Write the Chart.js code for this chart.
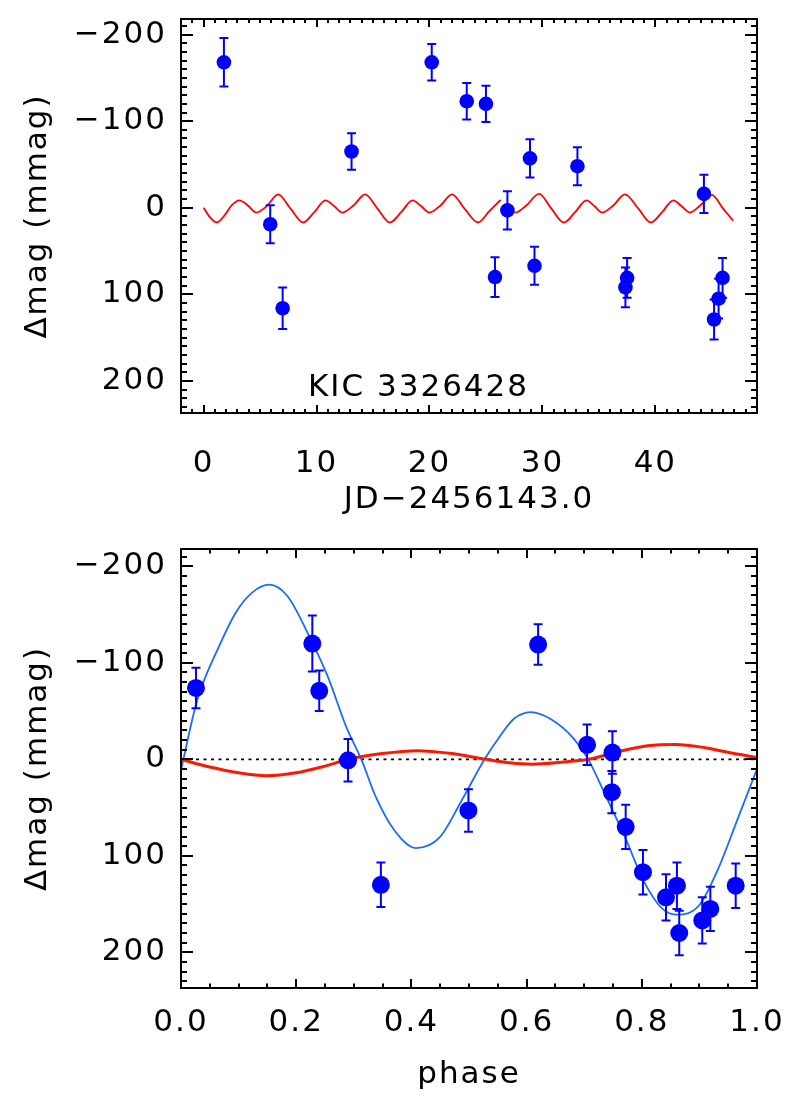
<!DOCTYPE html>
<html lang="en">
<head>
<meta charset="UTF-8">
<title>KIC 3326428 light curve</title>
<script src="https://cdn.jsdelivr.net/npm/chart.js"></script>
<style>
  body { margin: 0; background: #fff; }
  canvas { position: absolute; left: 0; }
</style>
</head>
<body>
<canvas id="lc" width="786" height="540" style="top:0"></canvas>
<canvas id="ph" width="786" height="560" style="top:540px"></canvas>
<script>
// ---- top panel: time series ----
const jd     = [1.8, 5.9, 7.0, 13.1, 20.2, 23.3, 25.0, 25.8, 26.9, 28.9, 29.3, 33.1, 37.35, 37.5, 44.3, 45.2, 45.6, 45.95];
const jdMag  = [-168, 19, 116, -65, -168, -123, -120, 80, 3, -57, 67, -48, 92, 81, -16, 129, 105, 81];
const jdErr  = [28, 22, 24, 21, 21, 21, 21, 23, 22, 22, 22, 22, 23, 23, 22, 23, 23, 23];

// model curve, two pieces (null = break)
const fitJd  = [0.0, 0.5, 1.17, 1.9, 2.5, 3.17, 3.9, 4.65, 5.6, 6.6, 7.7, 8.83, 9.8, 10.8, 11.55, 12.3, 13.3, 14.3,
                15.4, 16.5, 17.5, 18.5, 19.25, 20.0, 21.0, 22.0, 23.1, 24.3, 25.3, 26.3, 26.6,
                27.0, 27.6, 28.6, 29.7, 30.8, 31.9, 32.9, 33.9, 34.6, 35.3, 36.3, 37.3, 38.5, 39.6, 40.6, 41.6,
                42.3, 43.05, 44.0, 45.0, 46.0, 46.9];
const fitMag = [0, 10, 17, 8, -3, -8.6, -3, 5.5, -2, -15.5, 1, 17, 5, -8.6, -2, 5.5, -3, -15.5,
                1, 17, 5, -8.6, -2, 5.5, -3, -15.5, 1, 17, 4, -9, null,
                3, 5.5, -3, -16, 1, 17, 5, -8.6, -2, 5.5, -3, -15.5, 1, 17, 5, -8.6,
                -2, 5.5, -3, -15, 1, 15];

// ---- bottom panel: phased ----
const phase  = [0.026, 0.228, 0.240, 0.290, 0.347, 0.499, 0.620, 0.705, 0.749, 0.748, 0.772, 0.802, 0.842, 0.861, 0.865, 0.905, 0.919, 0.963];
const phMag  = [-74, -120, -71, 1, 130, 53, -119, -15, -7, 34, 70, 117, 143, 131, 180, 167, 155, 131];
const phErr  = [21, 29, 21, 22, 23, 22, 21, 21, 22, 22, 23, 23, 24, 24, 23, 24, 23, 23];

const blueX = [0.0, 0.028, 0.066, 0.095, 0.124, 0.153, 0.185, 0.227, 0.254, 0.288, 0.313, 0.339, 0.371, 0.408, 0.449,
               0.487, 0.527, 0.555, 0.578, 0.607, 0.641, 0.681, 0.707, 0.739, 0.771, 0.804, 0.836, 0.862, 0.900, 0.933, 0.965, 1.0];
const blueY = [11, -61, -117, -152, -173, -181, -169, -122, -87, -32, 0, 40, 74, 92, 81,
               43, 0, -25, -42, -49, -42, -22, 0, 40, 81, 127, 155, 161, 151, 113, 64, 10];

const redX = [0.0, 0.05, 0.10, 0.148, 0.20, 0.25, 0.29, 0.35, 0.41, 0.47, 0.53, 0.57, 0.61, 0.66, 0.707, 0.76, 0.81, 0.859, 0.91, 0.96, 1.0];
const redY = [0, 8, 14, 17, 14, 7, 0, -6, -9, -6, 0, 3.5, 5, 3, 0, -8, -14, -15.5, -12, -6, -2];

const zeroX = [0, 1];
const zeroY = [0, 0];

// ticks
const magTicks   = [-200, -100, 0, 100, 200];
const jdTicks    = [0, 10, 20, 30, 40];
const phaseTicks = [0, 0.2, 0.4, 0.6, 0.8, 1.0];

const pts = (xs, ys) => xs.map((v, i) => ({ x: v, y: ys[i] }));
const fmtMag = v => (v < 0 ? '\u2212' : '') + Math.abs(v);

Chart.defaults.font.family = 'DejaVu Sans';
Chart.defaults.font.size = 31;
Chart.defaults.color = '#000';

// wider text, like the original
const spacing = {
  id: 'spacing',
  beforeLayout(c) { c.ctx.letterSpacing = '2px'; },
  beforeDraw(c) { c.ctx.letterSpacing = '2px'; }
};

// error bars under the dots
const errorBars = {
  id: 'errorBars',
  beforeDatasetDraw(chart, args) {
    const ds = chart.data.datasets[args.index];
    if (!ds.errors) return;
    const { ctx, scales: { x, y } } = chart;
    ctx.save();
    ctx.strokeStyle = ds.backgroundColor;
    ctx.lineWidth = 2;
    ds.data.forEach((p, i) => {
      const px = x.getPixelForValue(p.x);
      const y1 = y.getPixelForValue(p.y - ds.errors[i]);
      const y2 = y.getPixelForValue(p.y + ds.errors[i]);
      const c = ds.errorCap;
      ctx.beginPath();
      ctx.moveTo(px, y1); ctx.lineTo(px, y2);
      ctx.moveTo(px - c, y1); ctx.lineTo(px + c, y1);
      ctx.moveTo(px - c, y2); ctx.lineTo(px + c, y2);
      ctx.stroke();
    });
    ctx.restore();
  }
};

// frame with inward ticks on all four sides
const boxTicks = {
  id: 'boxTicks',
  afterDraw(chart, args, o) {
    const { ctx, chartArea: a, scales: { x, y } } = chart;
    ctx.save();
    ctx.strokeStyle = '#000';
    ctx.lineWidth = 2;
    ctx.strokeRect(a.left, a.top, a.right - a.left, a.bottom - a.top);
    ctx.beginPath();
    const isMajor = (s, v) => s.ticks.some(t => Math.abs(t.value - v) < 1e-6);
    for (let i = Math.ceil(x.min / o.xMinor); i * o.xMinor <= x.max + 1e-9; i++) {
      const v = i * o.xMinor;
      const px = Math.round(x.getPixelForValue(v));
      const len = isMajor(x, v) ? o.xMajor : o.xMajor / 2;
      ctx.moveTo(px, a.bottom); ctx.lineTo(px, a.bottom - len);
      ctx.moveTo(px, a.top); ctx.lineTo(px, a.top + len);
    }
    for (let i = Math.ceil(y.min / o.yMinor); i * o.yMinor <= y.max + 1e-9; i++) {
      const v = i * o.yMinor;
      const py = Math.round(y.getPixelForValue(v));
      const len = isMajor(y, v) ? o.yMajor : o.yMajor / 2;
      ctx.moveTo(a.left, py); ctx.lineTo(a.left + len, py);
      ctx.moveTo(a.right, py); ctx.lineTo(a.right - len, py);
    }
    ctx.stroke();
    if (o.label) {
      ctx.fillStyle = '#000';
      ctx.font = '31px "DejaVu Sans"';
      ctx.textAlign = 'left';
      ctx.textBaseline = 'alphabetic';
      ctx.fillText(o.label, a.left + 127, a.bottom - 17);
    }
    ctx.restore();
  }
};

function magAxis() {
  return {
    type: 'linear', reverse: true, min: -218, max: 237,
    afterBuildTicks: s => { s.ticks = magTicks.map(v => ({ value: v })); },
    afterFit: s => { s.width = 181; s.paddingTop = 0; s.paddingBottom = 0; },
    grid: { display: false, drawTicks: false },
    border: { display: false },
    ticks: { padding: 14, callback: fmtMag },
    title: { display: true, text: 'Δmag (mmag)', padding: { top: 19, bottom: 0 } }
  };
}

function xAxis(min, max, ticks, fmt, height, pad, title, titlePad) {
  return {
    type: 'linear', min: min, max: max,
    afterBuildTicks: s => { s.ticks = ticks.map(v => ({ value: v })); },
    afterFit: s => { s.height = height; s.paddingLeft = 0; s.paddingRight = 0; },
    grid: { display: false, drawTicks: false },
    border: { display: false },
    ticks: { padding: pad, maxRotation: 0, autoSkip: false, callback: fmt },
    title: { display: true, text: title, padding: { top: 0, bottom: titlePad } }
  };
}

const common = {
  responsive: false,
  animation: false,
  plugins: { legend: { display: false }, tooltip: { enabled: false } }
};

new Chart(document.getElementById('lc'), {
  type: 'scatter',
  data: {
    datasets: [
      { data: pts(jd, jdMag), errors: jdErr, errorCap: 4.5, backgroundColor: '#0000ff', borderWidth: 0, pointRadius: 7.3 },
      { data: pts(fitJd, fitMag), showLine: true, spanGaps: false, borderColor: '#ff0000', borderWidth: 1.8,
        pointRadius: 0, cubicInterpolationMode: 'monotone' }
    ]
  },
  options: {
    ...common,
    layout: { padding: { left: 0, right: 29, top: 19, bottom: 0 } },
    scales: {
      x: xAxis(-2, 49, jdTicks, v => String(v), 127, 32, 'JD\u22122456143.0', 21),
      y: magAxis()
    },
    plugins: { ...common.plugins, boxTicks: { xMinor: 1, yMinor: 10, xMajor: 8, yMajor: 12, label: 'KIC 3326428' } }
  },
  plugins: [spacing, errorBars, boxTicks]
});

new Chart(document.getElementById('ph'), {
  type: 'scatter',
  data: {
    datasets: [
      { data: pts(phase, phMag), errors: phErr, errorCap: 4.5, backgroundColor: '#0000ff', borderWidth: 0, pointRadius: 9 },
      { data: pts(redX, redY), showLine: true, borderColor: '#ff1800', borderWidth: 3, pointRadius: 0, cubicInterpolationMode: 'monotone' },
      { data: pts(blueX, blueY), showLine: true, borderColor: '#1a6bff', borderWidth: 1.8, pointRadius: 0, cubicInterpolationMode: 'monotone' },
      { data: pts(zeroX, zeroY), showLine: true, borderColor: '#000', borderWidth: 1.6, borderDash: [3, 4.5], pointRadius: 0 }
    ]
  },
  options: {
    ...common,
    layout: { padding: { left: 0, right: 29, top: 9, bottom: 0 } },
    scales: {
      x: xAxis(0, 1, phaseTicks, v => v.toFixed(1), 112, 16, 'phase', 6),
      y: magAxis()
    },
    plugins: { ...common.plugins, boxTicks: { xMinor: 0.05, yMinor: 10, xMajor: 9, yMajor: 12 } }
  },
  plugins: [spacing, errorBars, boxTicks]
});
</script>
</body>
</html>
